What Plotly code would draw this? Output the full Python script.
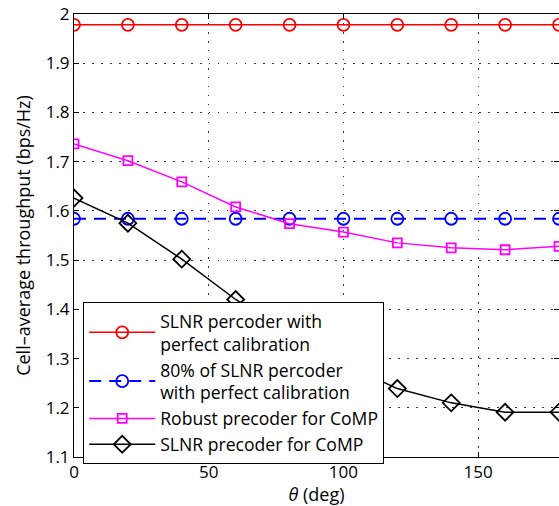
import plotly.graph_objects as go

theta = [0, 20, 40, 60, 80, 100, 120, 140, 160, 180]
slnr_perfect = [1.978] * 10
slnr_80 = [1.584] * 10
robust_comp = [1.736, 1.702, 1.659, 1.608, 1.574, 1.557, 1.535, 1.525, 1.521, 1.528]
slnr_comp = [1.626, 1.575, 1.502, 1.420, 1.350, 1.290, 1.239, 1.210, 1.191, 1.191]

names = ["SLNR percoder with<br>perfect calibration",
         "80% of SLNR percoder<br>with perfect calibration",
         "Robust precoder for CoMP",
         "SLNR precoder for CoMP"]

xticks = [0, 50, 100, 150]
yticks = [1.1, 1.2, 1.3, 1.4, 1.5, 1.6, 1.7, 1.8, 1.9, 2.0]
yticktext = ["1.1", "1.2", "1.3", "1.4", "1.5", "1.6", "1.7", "1.8", "1.9", "2"]

FONT = "Open Sans"

fig = go.Figure()
fig.add_trace(go.Scatter(x=theta, y=slnr_perfect, name=names[0], mode="lines+markers",
                         line=dict(color="#ff0000", width=1.5),
                         marker=dict(symbol="circle-open", size=12, color="#ff0000", line=dict(width=1.8))))
fig.add_trace(go.Scatter(x=theta, y=slnr_80, name=names[1], mode="lines+markers",
                         line=dict(color="#0000ff", width=2, dash="12px,8px"),
                         marker=dict(symbol="circle-open", size=12, color="#0000ff", line=dict(width=1.8))))
fig.add_trace(go.Scatter(x=theta, y=robust_comp, name=names[2], mode="lines+markers",
                         line=dict(color="#ff00ff", width=1.5),
                         marker=dict(symbol="square-open", size=9, color="#ff00ff", line=dict(width=1.8))))
fig.add_trace(go.Scatter(x=theta, y=slnr_comp, name=names[3], mode="lines+markers",
                         line=dict(color="#000000", width=1.5),
                         marker=dict(symbol="diamond-open", size=13, color="#000000", line=dict(width=1.8))))

fig.update_layout(
    width=559, height=506,
    margin=dict(l=74, r=0, t=14, b=49),
    paper_bgcolor="white", plot_bgcolor="white",
    font=dict(family=FONT, size=17, color="black"),
    showlegend=True,
    legend=dict(x=0.019, y=0.35, xanchor="left", yanchor="top",
                bgcolor="white", bordercolor="black", borderwidth=1,
                font=dict(family=FONT, size=17.6, color="black"),
                itemwidth=66, tracegroupgap=0),
)
fig.update_xaxes(range=[0, 180], tickvals=xticks, ticks="inside", ticklen=5, tickcolor="black",
                 showline=True, linecolor="black", linewidth=1, mirror="allticks",
                 showgrid=True, gridcolor="#333333", griddash="1.5px,7.5px", gridwidth=1, zeroline=False,
                 tickfont=dict(size=17),
                 title=dict(text="<i>θ</i> (deg)", font=dict(size=18), standoff=2))
fig.update_yaxes(range=[1.1, 2.0], tickvals=yticks, ticktext=yticktext, ticks="inside", ticklen=5,
                 tickcolor="black",
                 showline=True, linecolor="black", linewidth=1, mirror="allticks",
                 showgrid=True, gridcolor="#333333", griddash="1.5px,7.5px", gridwidth=1, zeroline=False,
                 tickfont=dict(size=17),
                 title=dict(text="Cell–average throughput (bps/Hz)", font=dict(size=18), standoff=10))

fig.write_html("out.html", config={"displayModeBar": False},
               post_script="document.body.style.margin='0';document.body.style.padding='0';")
